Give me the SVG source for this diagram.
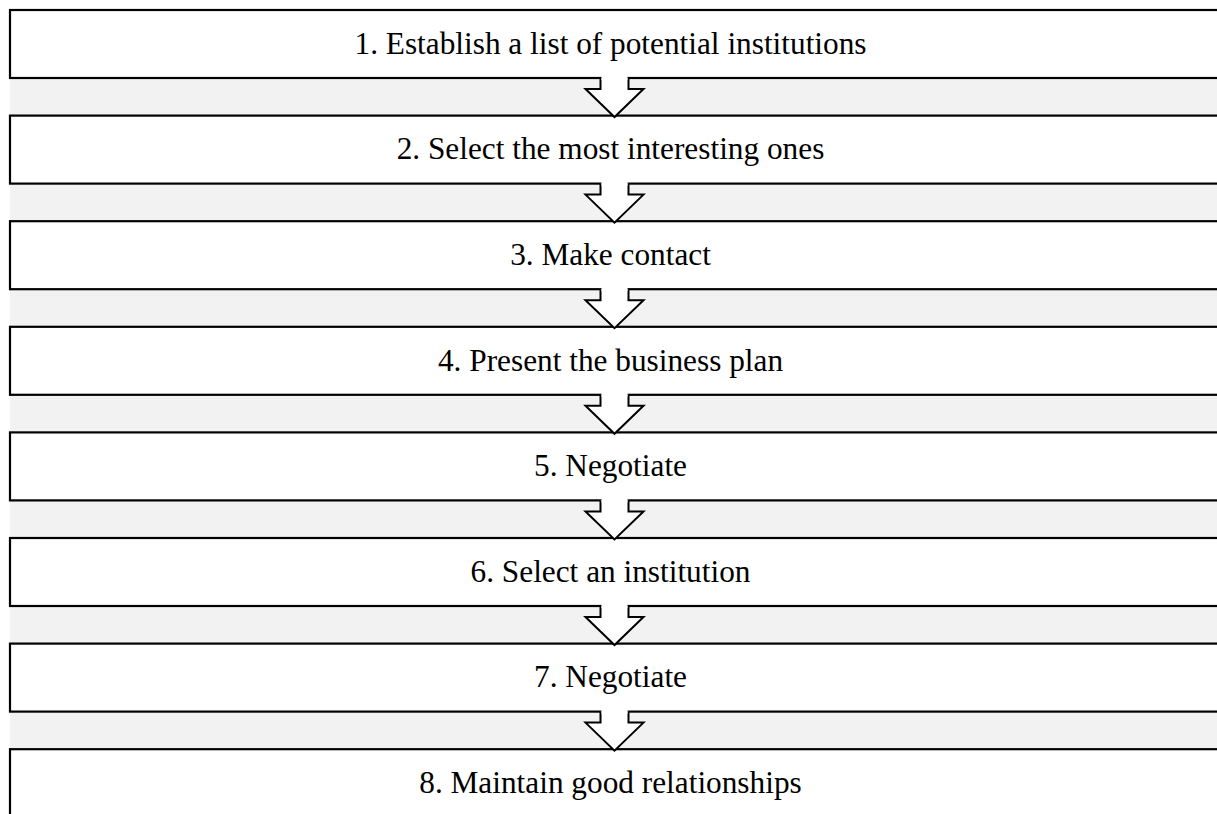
<svg xmlns="http://www.w3.org/2000/svg" width="1217" height="814" viewBox="0 0 1217 814">
<style>
.band{fill:#f2f2f2;stroke:none}
.box{fill:#ffffff;stroke:#000000;stroke-width:2.2}
.lbl{font-family:"Liberation Serif","Times New Roman",serif;font-size:31.3px;fill:#000000;text-anchor:middle}
.arr{fill:#ffffff;stroke:#000000;stroke-width:2;stroke-linejoin:miter}
.gap{fill:#ffffff;stroke:none}
</style>
<rect x="0" y="0" width="1217" height="814" fill="#ffffff"/>
<g id="bands">
<rect class="band" x="10" y="78" width="1210" height="37.6"/>
<rect class="band" x="10" y="183.6" width="1210" height="37.6"/>
<rect class="band" x="10" y="289.2" width="1210" height="37.6"/>
<rect class="band" x="10" y="394.8" width="1210" height="37.6"/>
<rect class="band" x="10" y="500.4" width="1210" height="37.6"/>
<rect class="band" x="10" y="606" width="1210" height="37.6"/>
<rect class="band" x="10" y="711.6" width="1210" height="37.6"/>
</g>
<g id="node1"><rect class="box" x="10" y="10" width="1215" height="68"/><text class="lbl" x="610.5" y="53.8">1. Establish a list of potential institutions</text></g>
<g id="node2"><rect class="box" x="10" y="115.6" width="1215" height="68"/><text class="lbl" x="610.5" y="159.4">2. Select the most interesting ones</text></g>
<g id="node3"><rect class="box" x="10" y="221.2" width="1215" height="68"/><text class="lbl" x="610.5" y="265">3. Make contact</text></g>
<g id="node4"><rect class="box" x="10" y="326.8" width="1215" height="68"/><text class="lbl" x="610.5" y="370.6">4. Present the business plan</text></g>
<g id="node5"><rect class="box" x="10" y="432.4" width="1215" height="68"/><text class="lbl" x="610.5" y="476.2">5. Negotiate</text></g>
<g id="node6"><rect class="box" x="10" y="538" width="1215" height="68"/><text class="lbl" x="610.5" y="581.8">6. Select an institution</text></g>
<g id="node7"><rect class="box" x="10" y="643.6" width="1215" height="68"/><text class="lbl" x="610.5" y="687.4">7. Negotiate</text></g>
<g id="node8"><rect class="box" x="10" y="749.2" width="1215" height="68"/><text class="lbl" x="610.5" y="793">8. Maintain good relationships</text></g>
<g id="connectors">
<g transform="translate(0,78)"><polyline class="arr" points="600.5,0 600.5,11 585.5,11 614.5,39 643.5,11 628.5,11 628.5,0"/><rect class="gap" x="601.5" y="-2" width="26" height="4"/></g>
<g transform="translate(0,183.6)"><polyline class="arr" points="600.5,0 600.5,11 585.5,11 614.5,39 643.5,11 628.5,11 628.5,0"/><rect class="gap" x="601.5" y="-2" width="26" height="4"/></g>
<g transform="translate(0,289.2)"><polyline class="arr" points="600.5,0 600.5,11 585.5,11 614.5,39 643.5,11 628.5,11 628.5,0"/><rect class="gap" x="601.5" y="-2" width="26" height="4"/></g>
<g transform="translate(0,394.8)"><polyline class="arr" points="600.5,0 600.5,11 585.5,11 614.5,39 643.5,11 628.5,11 628.5,0"/><rect class="gap" x="601.5" y="-2" width="26" height="4"/></g>
<g transform="translate(0,500.4)"><polyline class="arr" points="600.5,0 600.5,11 585.5,11 614.5,39 643.5,11 628.5,11 628.5,0"/><rect class="gap" x="601.5" y="-2" width="26" height="4"/></g>
<g transform="translate(0,606)"><polyline class="arr" points="600.5,0 600.5,11 585.5,11 614.5,39 643.5,11 628.5,11 628.5,0"/><rect class="gap" x="601.5" y="-2" width="26" height="4"/></g>
<g transform="translate(0,711.6)"><polyline class="arr" points="600.5,0 600.5,11 585.5,11 614.5,39 643.5,11 628.5,11 628.5,0"/><rect class="gap" x="601.5" y="-2" width="26" height="4"/></g>
</g>
</svg>
